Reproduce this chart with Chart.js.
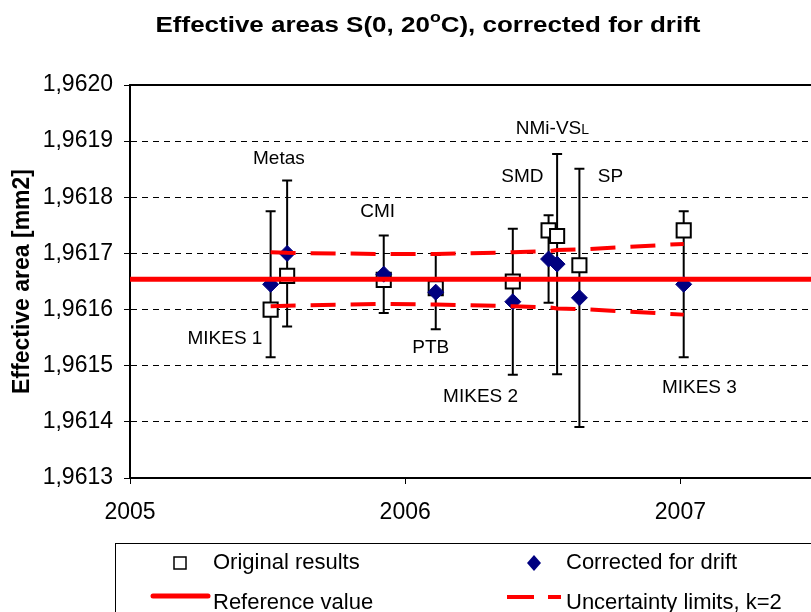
<!DOCTYPE html>
<html>
<head>
<meta charset="utf-8">
<title>Effective areas S(0, 20°C)</title>
<script src="https://cdn.jsdelivr.net/npm/chart.js@4.4.1/dist/chart.umd.min.js"></script>
<style>
    html, body { margin: 0; padding: 0; overflow: hidden; background: #fff; }
    #myChart { position: absolute; left: 0; top: 0; }
</style>
</head>
<body>
<canvas id="myChart" width="830" height="640"></canvas>
<script>
// datos
const laboratorios = ['MIKES 1', 'Metas', 'CMI', 'PTB', 'MIKES 2', 'SMD', 'NMi-VSL', 'SP', 'MIKES 3'];
const fechas = [2005.511, 2005.571, 2005.922, 2006.111, 2006.391, 2006.521, 2006.552, 2006.633, 2007.012];
const originales = [1.961600, 1.961660, 1.961653, 1.961638, 1.961650, 1.961741, 1.961731, 1.961679, 1.961741];
const corregidos = [1.961645, 1.961700, 1.961663, 1.961631, 1.961614, 1.961690, 1.961681, 1.961621, 1.961645];
const incertidumbre = [0.000130, 0.000130, 0.000069, 0.000066, 0.000130, 0.000078, 0.000196, 0.000230, 0.000130];
const limiteSup = [1.961702, 1.961701, 1.961699, 1.961699, 1.961702, 1.961704, 1.961706, 1.961707, 1.961717];
const limiteInf = [1.961606, 1.961607, 1.961610, 1.961609, 1.961606, 1.961604, 1.961602, 1.961601, 1.961591];
const valorReferencia = 1.961654;
const rangoX = [2005, 2007.5];
const ticksY = [1.9613, 1.9620];
// donde va el nombre de cada laboratorio (en unidades del grafico)
const etiquetaX = [2005.345, 2005.541, 2005.900, 2006.093, 2006.274, 2006.426, 2006.535, 2006.746, 2007.069];
const etiquetaY = [1.961548, 1.961868, 1.961774, 1.961532, 1.961445, 1.961836, 1.961925, 1.961836, 1.961460];

const fuente = 'Liberation Sans, Arial, sans-serif';
const rojo = '#ff0000';
const azul = '#000080';

function puntos(xs, ys) {
    return xs.map((x, i) => ({ x: x, y: ys[i] }));
}

const barrasError = {
    id: 'barrasError',
    beforeDatasetsDraw(chart) {
        let ctx = chart.ctx;
        let sx = chart.scales.x, sy = chart.scales.y;
        ctx.save();
        ctx.strokeStyle = '#000';
        ctx.lineWidth = 2;
        for (let i = 0; i < fechas.length; i++) {
            let x = sx.getPixelForValue(fechas[i]);
            let ya = sy.getPixelForValue(corregidos[i] + incertidumbre[i]);
            let yb = sy.getPixelForValue(corregidos[i] - incertidumbre[i]);
            ctx.beginPath();
            ctx.moveTo(x, ya); ctx.lineTo(x, yb);
            ctx.moveTo(x - 5, ya); ctx.lineTo(x + 5, ya);
            ctx.moveTo(x - 5, yb); ctx.lineTo(x + 5, yb);
            ctx.stroke();
        }
        ctx.restore();
    }
};

const marco = {
    id: 'marco',
    beforeDatasetsDraw(chart) {
        let a = chart.chartArea, ctx = chart.ctx;
        ctx.save();
        ctx.strokeStyle = '#000';
        ctx.lineWidth = 2;
        ctx.beginPath();
        ctx.moveTo(a.left, a.top);
        ctx.lineTo(a.right, a.top);
        ctx.stroke();
        ctx.restore();
    }
};

const etiquetas = {
    id: 'etiquetas',
    afterDatasetsDraw(chart) {
        let ctx = chart.ctx;
        let sx = chart.scales.x, sy = chart.scales.y;
        ctx.save();
        ctx.fillStyle = '#000';
        ctx.textBaseline = 'middle';
        for (let i = 0; i < laboratorios.length; i++) {
            let x = sx.getPixelForValue(etiquetaX[i]);
            let y = sy.getPixelForValue(etiquetaY[i]);
            let txt = laboratorios[i];
            if (txt === 'NMi-VSL') {
                ctx.font = '19px ' + fuente;
                let a = ctx.measureText('NMi-VS').width;
                ctx.font = '14px ' + fuente;
                let b = ctx.measureText('L').width;
                ctx.textAlign = 'left';
                ctx.textBaseline = 'alphabetic';
                ctx.font = '19px ' + fuente;
                ctx.fillText('NMi-VS', x - (a + b) / 2, y + 7);
                ctx.font = '14px ' + fuente;
                ctx.fillText('L', x - (a + b) / 2 + a, y + 7);
                ctx.textBaseline = 'middle';
            } else {
                ctx.font = '19px ' + fuente;
                ctx.textAlign = 'center';
                ctx.fillText(txt, x, y);
            }
        }
        ctx.restore();
    }
};

// el titulo original va un poco estirado a lo ancho
const titulo = {
    id: 'titulo',
    afterDraw(chart) {
        let ctx = chart.ctx;
        let p1 = 'Effective areas S(0, 20', p2 = 'o', p3 = 'C), corrected for drift';
        ctx.save();
        ctx.fillStyle = '#000';
        ctx.textAlign = 'left';
        ctx.textBaseline = 'alphabetic';
        ctx.font = 'bold 22px ' + fuente;
        let w1 = ctx.measureText(p1).width, w3 = ctx.measureText(p3).width;
        ctx.font = 'bold 15px ' + fuente;
        let w2 = ctx.measureText(p2).width;
        let total = w1 + w2 + w3;
        let ancho = 545;
        ctx.translate(428 - ancho / 2, 0);
        ctx.scale(ancho / total, 1);
        ctx.font = 'bold 22px ' + fuente;
        ctx.fillText(p1, 0, 32);
        ctx.font = 'bold 15px ' + fuente;
        ctx.fillText(p2, w1, 22);
        ctx.font = 'bold 22px ' + fuente;
        ctx.fillText(p3, w1 + w2, 32);
        ctx.restore();
    }
};

const leyenda = {
    id: 'leyenda',
    afterDraw(chart) {
        let ctx = chart.ctx;
        let ds = chart.data.datasets;
        ctx.save();
        ctx.strokeStyle = '#000';
        ctx.lineWidth = 1;
        ctx.strokeRect(115.5, 543.5, 800, 200);

        // cuadro blanco
        ctx.fillStyle = '#fff';
        ctx.lineWidth = 1.5;
        ctx.fillRect(174, 557, 12, 12);
        ctx.strokeRect(174, 557, 12, 12);
        // rombo azul
        ctx.fillStyle = azul;
        ctx.beginPath();
        ctx.moveTo(534, 555); ctx.lineTo(541, 563); ctx.lineTo(534, 571); ctx.lineTo(527, 563);
        ctx.closePath();
        ctx.fill();
        // linea de referencia
        ctx.strokeStyle = rojo;
        ctx.lineWidth = 5;
        ctx.lineCap = 'round';
        ctx.beginPath(); ctx.moveTo(153, 596); ctx.lineTo(208, 596); ctx.stroke();
        // limites
        ctx.lineWidth = 4;
        ctx.lineCap = 'butt';
        ctx.beginPath();
        ctx.moveTo(507, 597); ctx.lineTo(534, 597);
        ctx.moveTo(548, 597); ctx.lineTo(561, 597);
        ctx.stroke();

        ctx.fillStyle = '#000';
        ctx.font = '22px ' + fuente;
        ctx.textAlign = 'left';
        ctx.textBaseline = 'alphabetic';
        ctx.fillText(ds[0].label, 213, 569);
        ctx.fillText(ds[1].label, 566, 569);
        ctx.fillText(ds[2].label, 213, 609);
        ctx.fillText(ds[3].label, 566, 609);
        ctx.restore();
    }
};

function graficar() {
    Chart.defaults.font.family = fuente;
    Chart.defaults.color = '#000';
    let ctx = document.getElementById('myChart');
    const data = {
        datasets: [
            {
                label: 'Original results',
                data: puntos(fechas, originales),
                pointStyle: 'rect',
                pointRadius: 10,
                backgroundColor: '#fff',
                borderColor: '#000',
                borderWidth: 2,
                showLine: false,
                order: 5
            },
            {
                label: 'Corrected for drift',
                data: puntos(fechas, corregidos),
                pointStyle: 'rectRot',
                pointRadius: 8,
                backgroundColor: azul,
                borderColor: azul,
                borderWidth: 1,
                showLine: false,
                order: 4
            },
            {
                label: 'Reference value',
                data: puntos(rangoX, [valorReferencia, valorReferencia]),
                borderColor: rojo,
                borderWidth: 5,
                pointRadius: 0,
                showLine: true,
                order: 1
            },
            {
                label: 'Uncertainty limits, k=2',
                data: puntos(fechas, limiteSup),
                borderColor: rojo,
                borderWidth: 4,
                borderDash: [25, 15],
                pointRadius: 0,
                showLine: true,
                order: 2
            },
            {
                label: 'Uncertainty limits, k=2 (inf)',
                data: puntos(fechas, limiteInf),
                borderColor: rojo,
                borderWidth: 4,
                borderDash: [25, 15],
                pointRadius: 0,
                showLine: true,
                order: 3
            }
        ]
    };
    const config = {
        type: 'scatter',
        data: data,
        options: {
            responsive: false,
            devicePixelRatio: 1,
            animation: false,
            layout: { padding: { left: 0, top: 85, right: 11, bottom: 112 } },
            plugins: {
                legend: { display: false },
                tooltip: { enabled: false }
            },
            scales: {
                x: {
                    type: 'linear',
                    min: rangoX[0],
                    max: rangoX[1],
                    afterFit: (s) => { s.height = 50; },
                    afterBuildTicks: (s) => { s.ticks = s.ticks.filter(t => Number.isInteger(t.value)); },
                    ticks: {
                        stepSize: 1,
                        padding: 15,
                        font: { size: 23 },
                        callback: (v) => String(v)
                    },
                    grid: { drawOnChartArea: false, tickLength: 6, color: '#000', lineWidth: 1 },
                    border: { color: '#000', width: 2 }
                },
                y: {
                    min: ticksY[0],
                    max: ticksY[1],
                    afterFit: (s) => { s.width = 130; },
                    ticks: {
                        stepSize: 0.0001,
                        padding: 11,
                        font: { size: 23 },
                        callback: (v) => v.toFixed(4).replace('.', ',')
                    },
                    grid: {
                        tickLength: 6,
                        lineWidth: 1,
                        color: (c) => (c.tick && c.tick.value > 1.96199) ? 'rgba(0,0,0,0)' : '#000',
                        tickColor: '#000'
                    },
                    border: { color: '#000', width: 2, dash: [6, 5] },
                    title: {
                        display: true,
                        text: 'Effective area [mm2]',
                        font: { size: 23, weight: 'bold' },
                        padding: { top: 9, bottom: 0 }
                    }
                }
            }
        },
        plugins: [barrasError, marco, etiquetas, titulo, leyenda]
    };
    new Chart(ctx, config);
}

graficar();
</script>
</body>
</html>
